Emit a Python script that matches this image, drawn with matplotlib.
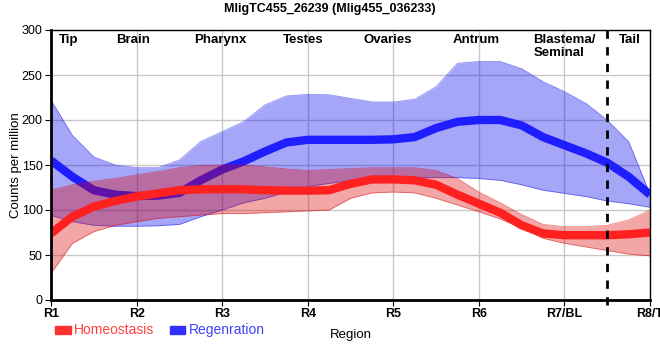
import matplotlib.pyplot as plt
from matplotlib.patches import Rectangle

plt.rcParams['font.family'] = ['Liberation Sans', 'DejaVu Sans']

# sample positions along the body, in region units (R1 = 0 ... R8 = 7)
pos = [i * 0.25 for i in range(29)]
tick_labels = ["R1", "R2", "R3", "R4", "R5", "R6", "R7/BL", "R8/T"]

homeo_mean = [74, 92.6, 103.7, 110, 115, 118.5, 122, 123, 123, 123,
              122, 121.5, 121.5, 122, 129, 134, 134, 133, 128,
              117, 107, 97, 83, 74, 72, 72, 72, 73, 75]
homeo_hi = [122, 128, 132, 135, 139, 142.6, 147, 149.6, 150, 150,
            148, 145.6, 144, 145, 146, 147, 147, 147, 144,
            135, 120, 108, 95, 84, 81.5, 81.5, 83, 89, 100]
homeo_lo = [29.6, 63, 76, 83, 87, 90.7, 92.6, 94.4, 96, 96,
            97, 98, 99, 100, 113, 119, 120, 119, 113,
            105.5, 98, 90, 80, 68.5, 63, 59, 55, 51, 49]

regen_mean = [155, 137, 122, 117, 115.5, 116, 119, 133, 145, 154,
              165, 175, 178, 178, 178, 178, 178.5, 181, 191,
              198, 200, 200, 194, 181, 172, 163, 152.6, 137, 117]
regen_hi = [222, 183, 159, 150, 147, 147, 155.5, 176, 187, 198,
            216.7, 226.7, 228.5, 228, 224, 220, 220, 223, 237,
            263, 265, 265, 257, 242.6, 231.5, 218.5, 200, 176, 118]
regen_lo = [94, 87, 83, 82, 82, 82.5, 84, 92.6, 100, 108,
            113, 120, 126, 129.6, 132.6, 135, 136, 136, 136,
            136, 135, 133, 128, 122, 118.5, 115, 110, 107, 103]

regions = ["Tip", "Brain", "Pharynx", "Testes", "Ovaries", "Antrum", "Blastema/\nSeminal", "Tail"]
region_x = [0.21, 0.96, 1.98, 2.95, 3.93, 4.97, 5.64, 6.76]
region_ha = ["center"] * 6 + ["left", "center"]

blue = "#1e1eff"
red = "#ff2020"
blue_band = "#0000f0"
red_band = "#da0000"

fig = plt.figure(figsize=(6.6, 3.6), dpi=100)
ax = fig.add_axes([51 / 660, 60 / 360, 599 / 660, 270 / 360])

# draw order: blue band, blue line, red band, red line
ax.fill_between(pos, regen_lo, regen_hi, color=blue_band, alpha=0.35, lw=0, zorder=2)
ax.plot(pos, regen_hi, color=blue_band, lw=0.6, alpha=0.45, zorder=2.05)
ax.plot(pos, regen_lo, color=blue_band, lw=0.6, alpha=0.45, zorder=2.05)
ax.plot(pos, regen_mean, color=blue, lw=6, solid_capstyle="butt", zorder=2.1)

ax.fill_between(pos, homeo_lo, homeo_hi, color=red_band, alpha=0.35, lw=0, zorder=2.2)
ax.plot(pos, homeo_hi, color=red_band, lw=0.6, alpha=0.45, zorder=2.25)
ax.plot(pos, homeo_lo, color=red_band, lw=0.6, alpha=0.45, zorder=2.25)
ax.plot(pos, homeo_mean, color=red, lw=6, solid_capstyle="butt", zorder=2.3)

ax.axvline(6.5, color="black", lw=2, dashes=(3, 3), clip_on=False, ymin=-0.02, zorder=3)

ax.set_xlim(0, 7)
ax.set_ylim(0, 300)
ax.set_xticks(range(8))
ax.set_xticklabels(tick_labels, fontweight="bold", fontsize=9)
ax.set_yticks(range(0, 301, 50))
ax.tick_params(axis="y", labelsize=9, length=4, pad=2)
ax.tick_params(axis="x", length=4, pad=2)
ax.grid(True, color="#c8c8c8", lw=1)
ax.set_axisbelow(True)
for side in ["left", "bottom"]:
    ax.spines[side].set_linewidth(2)
for side in ["top", "right"]:
    ax.spines[side].set_linewidth(1)

for name, x, ha in zip(regions, region_x, region_ha):
    ax.text(x, 0.985, name, transform=ax.get_xaxis_transform(), ha=ha, va="top",
            fontsize=9.5, fontweight="bold", linespacing=1.05)

ax.set_ylabel("Counts per million", fontsize=9.5, labelpad=0)
ax.set_xlabel("Region", fontsize=9.5, labelpad=6)

fig.text(330 / 660, 1 - 9 / 360, "MligTC455_26239 (Mlig455_036233)", ha="center", va="center",
         fontsize=9, fontweight="bold")

# legend
fig.patches.append(Rectangle((55 / 660, 26 / 360), 16 / 660, 8 / 360, color="#ff3030",
                             transform=fig.transFigure))
fig.text(74 / 660, 30 / 360, "Homeostasis", color="#ff4040", fontsize=10, va="center")
fig.patches.append(Rectangle((170 / 660, 26 / 360), 15 / 660, 8 / 360, color="#3030ff",
                             transform=fig.transFigure))
fig.text(189 / 660, 30 / 360, "Regenration", color="#4040ff", fontsize=10, va="center")

fig.savefig("out.png", dpi=100)
